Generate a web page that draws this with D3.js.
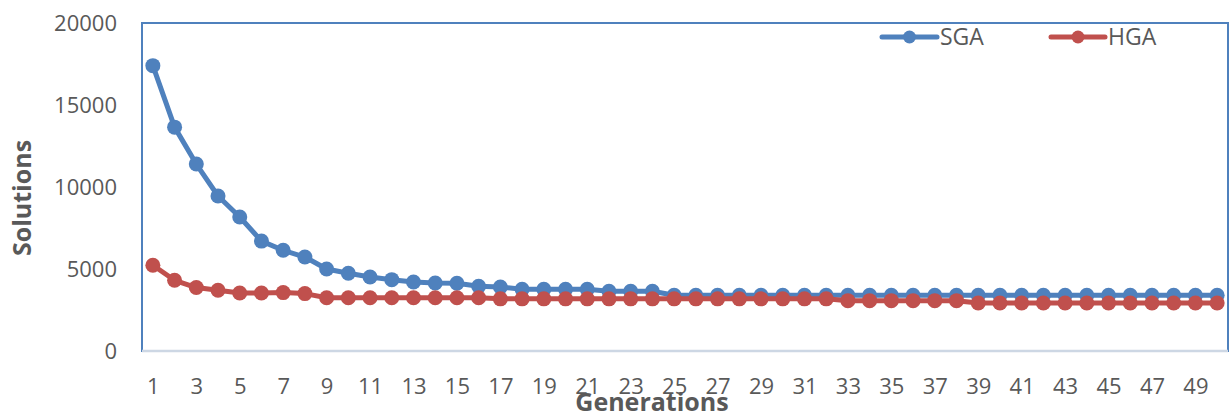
<!DOCTYPE html>
<html>
<head>
<meta charset="utf-8">
<script src="https://cdn.jsdelivr.net/npm/d3@7"></script>
<style>
  html, body { margin: 0; padding: 0; background: #fff; }
  svg { display: block; font-family: "Open Sans", "Noto Sans", sans-serif; }
</style>
</head>
<body>
<svg id="chart" width="1230" height="414"></svg>
<script>
// Generation index on the x axis
const generations = [1,2,3,4,5,6,7,8,9,10,11,12,13,14,15,16,17,18,19,20,
  21,22,23,24,25,26,27,28,29,30,31,32,33,34,35,36,37,38,39,40,
  41,42,43,44,45,46,47,48,49,50];

// Number of solutions per generation, simple GA
const sgaValues = [17400,13650,11400,9450,8170,6700,6140,5730,5000,4740,
  4510,4350,4210,4150,4130,3950,3900,3760,3760,3760,
  3760,3640,3640,3640,3400,3400,3400,3400,3400,3400,
  3400,3400,3400,3400,3400,3400,3400,3400,3400,3400,
  3400,3400,3400,3400,3400,3400,3400,3400,3400,3400];

// Number of solutions per generation, hybrid GA
const hgaValues = [5230,4310,3870,3700,3540,3540,3560,3500,3250,3250,
  3250,3250,3250,3250,3250,3250,3180,3180,3180,3180,
  3180,3180,3180,3180,3180,3180,3180,3180,3180,3180,
  3180,3180,3070,3070,3070,3070,3070,3070,2930,2930,
  2930,2930,2930,2930,2930,2930,2930,2930,2930,2930];

const yTicks = [0, 5000, 10000, 15000, 20000];
const seriesNames = ["SGA", "HGA"];
const seriesColors = ["#4F81BD", "#C0504D"];

const svg = d3.select("#chart");
const plot = { left: 142, top: 23, right: 1228, bottom: 351 };

const x = d3.scalePoint()
  .domain(generations)
  .range([plot.left, plot.right])
  .padding(0.5);

const y = d3.scaleLinear()
  .domain([0, 20000])
  .range([plot.bottom, plot.top]);

// Plot-area frame
svg.append("rect")
  .attr("x", plot.left)
  .attr("y", plot.top)
  .attr("width", plot.right - plot.left)
  .attr("height", plot.bottom - plot.top)
  .attr("fill", "none")
  .attr("stroke", "#4F81BD")
  .attr("stroke-width", 2);

// Category axis line
svg.append("line")
  .attr("x1", plot.left)
  .attr("x2", plot.right)
  .attr("y1", plot.bottom)
  .attr("y2", plot.bottom)
  .attr("stroke", "#CDD7E4")
  .attr("stroke-width", 2.5);

// Y axis labels
const yAxis = d3.axisLeft(y).tickValues(yTicks).tickSize(0).tickPadding(0).tickFormat(d3.format("d"));
const gy = svg.append("g").attr("transform", "translate(117,0)").call(yAxis);
gy.select(".domain").remove();
gy.selectAll("text")
  .attr("font-family", "'Open Sans', sans-serif")
  .attr("font-size", 22)
  .attr("fill", "#595959")
  .attr("dy", "0.36em");

// X axis labels (every other generation)
const xAxis = d3.axisBottom(x)
  .tickValues(generations.filter(g => g % 2 === 1))
  .tickSize(0)
  .tickPadding(0);
const gx = svg.append("g").attr("transform", `translate(0,${plot.bottom})`).call(xAxis);
gx.select(".domain").remove();
gx.selectAll("text")
  .attr("font-family", "'Open Sans', sans-serif")
  .attr("font-size", 22)
  .attr("fill", "#595959")
  .attr("y", 43)
  .attr("dy", 0);

// Axis titles
svg.append("text")
  .attr("x", 652)
  .attr("y", 411)
  .attr("text-anchor", "middle")
  .attr("font-size", 25)
  .attr("font-weight", "bold")
  .attr("fill", "#595959")
  .text("Generations");

svg.append("text")
  .attr("transform", "translate(31,198) rotate(-90)")
  .attr("text-anchor", "middle")
  .attr("font-size", 25)
  .attr("font-weight", "bold")
  .attr("fill", "#595959")
  .text("Solutions");

// Series lines and markers
const series = [sgaValues, hgaValues];
const line = d3.line()
  .x((d, i) => x(generations[i]))
  .y(d => y(d));

series.forEach((vals, s) => {
  const g = svg.append("g");
  g.append("path")
    .datum(vals)
    .attr("d", line)
    .attr("fill", "none")
    .attr("stroke", seriesColors[s])
    .attr("stroke-width", 5)
    .attr("stroke-linejoin", "round");
  g.selectAll("circle")
    .data(vals)
    .join("circle")
    .attr("cx", (d, i) => x(generations[i]))
    .attr("cy", d => y(d))
    .attr("r", 7.5)
    .attr("fill", seriesColors[s]);
});

// Legend
const legendItems = [
  { x0: 882, x1: 937, tx: 940 },
  { x0: 1051, x1: 1105, tx: 1108 }
];
legendItems.forEach((it, s) => {
  const g = svg.append("g");
  g.append("line")
    .attr("x1", it.x0).attr("x2", it.x1)
    .attr("y1", 37).attr("y2", 37)
    .attr("stroke", seriesColors[s])
    .attr("stroke-width", 5)
    .attr("stroke-linecap", "round");
  g.append("circle")
    .attr("cx", (it.x0 + it.x1) / 2)
    .attr("cy", 37)
    .attr("r", 6.5)
    .attr("fill", seriesColors[s]);
  g.append("text")
    .attr("x", it.tx)
    .attr("y", 45)
    .attr("font-size", 23)
    .attr("fill", "#595959")
    .text(seriesNames[s]);
});
</script>
</body>
</html>
